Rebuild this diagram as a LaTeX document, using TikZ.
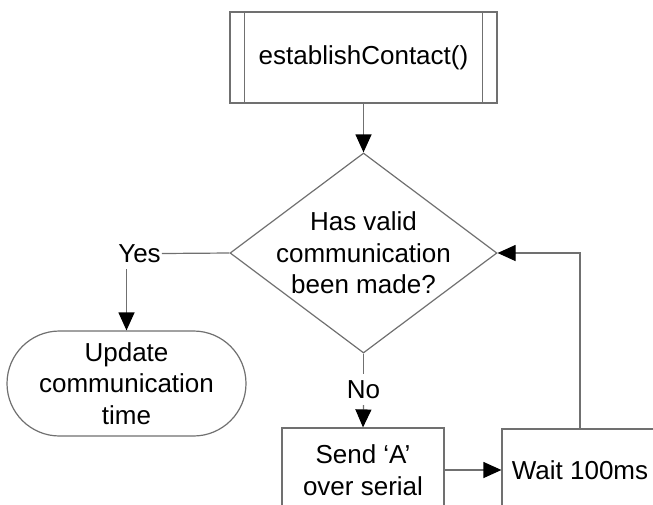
\documentclass[tikz,border=0pt]{standalone}
\usepackage{fontspec}
\setmainfont{Liberation Sans}
\usetikzlibrary{shapes.geometric,arrows.meta}
\definecolor{linegray}{HTML}{707070}
\begin{document}
\begin{tikzpicture}[x=1pt,y=-1pt,
  every node/.style={font=\fontsize{26}{31.5}\selectfont, align=center},
  box/.style={draw=linegray, line width=1.2pt, fill=white, inner sep=0pt},
  ln/.style={draw=linegray, line width=1.2pt},
  arr/.style={ln, -{Triangle[length=18pt,width=16pt,color=black,fill=black]}},
  lbl/.style={inner xsep=1pt, inner ysep=6pt, text height=18.6pt, text depth=0pt}]
\useasboundingbox (0,0) rectangle (653,504);
\clip (0,0) rectangle (653,504);

\node[box, minimum width=267pt, minimum height=91pt] (top) at (363.5,57.5) {establishContact()};
\draw[ln] ([xshift=15pt]top.north west) -- ([xshift=15pt]top.south west);
\draw[ln] ([xshift=-15pt]top.north east) -- ([xshift=-15pt]top.south east);

\node[diamond, draw=linegray, line width=1.2pt, minimum width=267pt, minimum height=200pt, inner sep=0pt] (dec) at (363.5,253) {};
\node (dectext) at (dec) {Has valid\\communication\\been made?};

\node[box, rounded corners=52.5pt, minimum width=239pt, minimum height=105pt] (upd) at (126.5,383.5) {Update\\communication\\time};

\node[box, minimum width=162pt, minimum height=84pt] (send) at (363,470) {Send ‘A’\\over serial};
\node[box, minimum width=156pt, minimum height=82pt] (wait) at (580,470) {Wait 100ms};

\node[lbl] (yes) at (139.5,253.5) {Yes};
\node[lbl] (no) at (363.5,389.5) {No};

\draw[arr] (top.south) -- (dec.north);
\draw[ln] (dec.west) -- (yes.east);
\draw[arr] (yes.south -| upd.north) -- (upd.north);
\draw[ln] (dec.south) -- (no.north);
\draw[arr] (no.south) -- (send.north);
\draw[arr] (send.east) -- (send.east -| wait.west);
\draw[arr] (wait.north) -- (wait.north |- dec.east) -- (dec.east);
\end{tikzpicture}
\end{document}
